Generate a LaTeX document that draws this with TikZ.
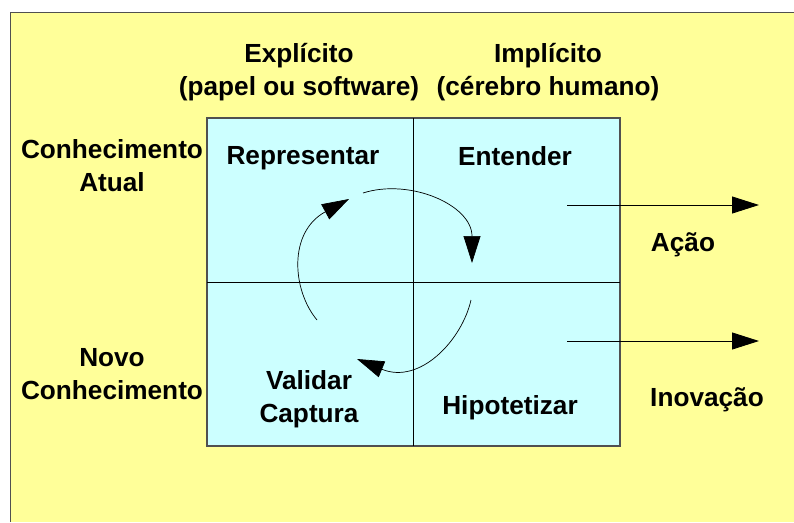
\documentclass[tikz,border=0pt]{standalone}
\usepackage{fontspec}
\setmainfont{Liberation Sans}
\usetikzlibrary{arrows.meta}
\definecolor{bgyellow}{HTML}{FFFF99}
\definecolor{cellcyan}{HTML}{CCFFFF}
\definecolor{framegray}{HTML}{505050}
\begin{document}
\begin{tikzpicture}[x=1pt,y=-1pt,
  lbl/.style={font=\bfseries\fontsize{26.2}{33}\selectfont, align=center, inner sep=0pt, anchor=center},
  flow/.style={line width=0.9pt, -{Triangle[length=27pt,width=17pt]}},
  cyc/.style={line width=0.7pt, -{Triangle[length=27pt,width=17pt]}}]
\useasboundingbox (0,0) rectangle (794,522);
% background frame
\fill[bgyellow] (10,12) rectangle (794,522);
\draw[framegray, line width=1pt] (10,522) -- (10,12) -- (794,12);
% grid
\fill[cellcyan] (207,118) rectangle (620,446);
\draw[framegray, line width=1.2pt] (207,118) rectangle (620,446);
\draw[black, line width=0.8pt] (413,118) -- (413,446);
\draw[black, line width=0.8pt] (207,282) -- (620,282);
% headers
\node[lbl] (explicito) at (299,72) {Explícito\\(papel ou software)};
\node[lbl] (implicito) at (548,72) {Implícito\\(cérebro humano)};
\node[lbl] (atual) at (112,166) {Conhecimento\\Atual};
\node[lbl] (novo) at (112,374) {Novo\\Conhecimento};
% cells
\node[lbl] (repr) at (303,158) {Representar};
\node[lbl] (ent) at (515,156) {Entender};
\node[lbl] (valid) at (309,399) {Validar\\Captura};
\node[lbl] (hip) at (510,408) {Hipotetizar};
\node[lbl] (acao) at (683,245) {Ação};
\node[lbl] (inov) at (707,400) {Inovação};
% output arrows
\coordinate (a1s) at (567,205); \coordinate (a1e) at (759,205);
\coordinate (a2s) at (567,341); \coordinate (a2e) at (759,341);
\draw[flow] (a1s) -- (a1e);
\draw[flow] (a2s) -- (a2e);
% cycle
\coordinate (c1s) at (363,193); \coordinate (c1e) at (472,263);
\coordinate (c2s) at (471,300); \coordinate (c2e) at (357,359);
\coordinate (c3s) at (317,320); \coordinate (c3e) at (349,199);
\draw[cyc] (c1s) .. controls (410,178) and (472,205) .. (c1e);
\draw[cyc] (c2s) .. controls (462,340) and (420,385) .. (c2e);
\draw[cyc] (c3s) .. controls (292,290) and (288,232) .. (c3e);
\end{tikzpicture}
\end{document}
